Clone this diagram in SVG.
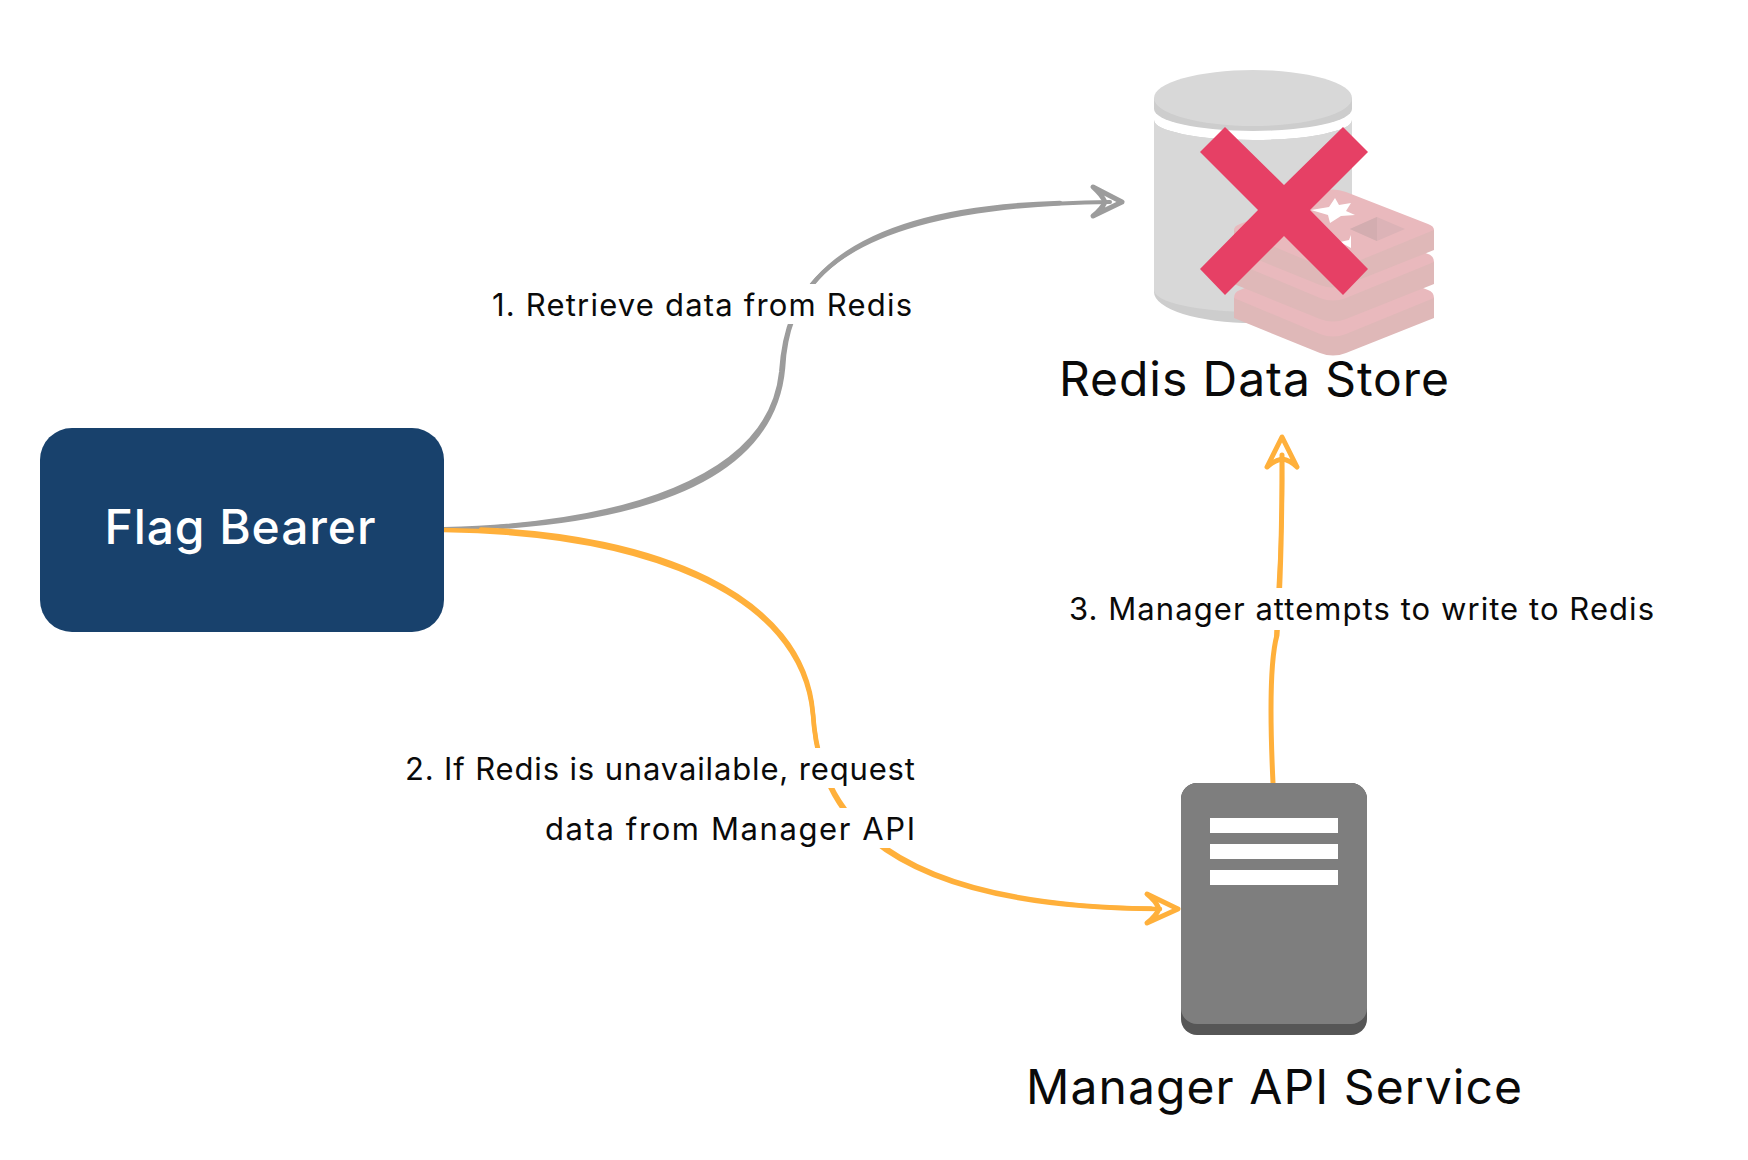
<svg xmlns="http://www.w3.org/2000/svg" width="1748" height="1160" viewBox="0 0 1748 1160">
<style>
text{font-family:"Inter","Noto Sans","Liberation Sans",sans-serif;fill:#0a0a0a}
.lab{font-size:31px}
.ttl{font-size:48px}
.gy{fill:none;stroke:#9c9c9c;stroke-linecap:round;stroke-linejoin:round}
.or{fill:none;stroke:#ffb03b;stroke-linecap:round;stroke-linejoin:round}
.mask{fill:#fff}
.face{fill:#e9b9bd}
.side{fill:#dfb8b8}
</style>
<rect width="1748" height="1160" fill="#fff"/>
<g id="connectors">
<path class="gy" stroke-width="4" d="M444,529C620,525 770,480 781,372C786,300 815,205 1110,202"/>
<path class="gy" stroke-width="4.5" d="M500,527C645,517 773,478 783,368C786,310 812,210 1060,203"/>
<path class="gy" stroke-width="5" d="M1093,187L1122,202L1093,216Q1102,209 1105,202Q1102,195 1093,187Z"/>
<path class="or" stroke-width="4.5" d="M444,530C640,533 802,590 813,715C818,790 850,908 1160,909"/>
<path class="or" stroke-width="4.5" transform="translate(1,-1.5)" d="M480,531C650,537 803,595 812,715C817,790 852,906 1150,910"/>
<path class="or" stroke-width="5" d="M1147,894L1178,909L1147,923Q1156,916 1159,909Q1156,901 1147,894Z"/>
<path class="or" stroke-width="5" d="M1273,783C1270,720 1270,660 1277,635C1281,580 1282,520 1282,455"/>
<path class="or" stroke-width="4" d="M1276,640C1278,580 1284,520 1282,458"/>
<path class="or" stroke-width="5" d="M1282,437L1267,467Q1275,460 1282,459Q1290,460 1297,467Z"/>
</g>
<g id="flag-bearer">
<rect x="40" y="428" width="404" height="204" rx="32" fill="#18416c"/>
<text x="240" y="544" text-anchor="middle" class="ttl" style="fill:#fff;font-weight:500" textLength="271">Flag Bearer</text>
</g>
<g id="redis-data-store">
<path fill="#cdcdcd" d="M1154,120A99,20 0 0 0 1352,120V292A99,31 0 0 1 1154,292Z"/>
<path fill="#d8d8d8" d="M1154,120A99,20 0 0 0 1352,120V290A99,22 0 0 1 1154,290Z"/>
<path fill="#cdcdcd" d="M1154,98V109A99,22 0 0 0 1352,109V98Z"/>
<ellipse cx="1253" cy="98" rx="99" ry="28" fill="#d8d8d8"/>
<g id="redis-logo">
<path class="side" d="M1234,298V318L1320,353Q1333,358 1346,353L1434,318V298Z"/>
<path class="face" d="M1234,298Q1234,292 1240,290L1320,258Q1333,253 1346,258L1428,290Q1434,292 1434,298L1346,334Q1333,339 1320,334Z"/>
<path class="side" d="M1234,262V284L1320,319Q1333,324 1346,319L1434,284V262Z"/>
<path class="face" d="M1234,262Q1234,256 1240,254L1320,222Q1333,217 1346,222L1428,254Q1434,256 1434,262L1346,298Q1333,303 1320,298Z"/>
<path class="side" d="M1234,230V250L1320,285Q1333,290 1346,285L1434,250V230Z"/>
<path class="face" d="M1234,230Q1234,226 1240,224L1320,192Q1333,187 1346,192L1428,224Q1434,226 1434,230L1346,266Q1333,271 1320,266Z"/>
<path fill="#fff" d="M1311,210L1329,207L1335,198L1339,205L1351,203L1346,211L1355,215L1341,216L1330,223L1328,215Z"/>
<path fill="#fff" d="M1340,242L1349,240L1351,235L1351,248Z"/>
<path fill="#dcb3b7" d="M1350,229L1377,217L1405,229L1377,241Z"/>
<path fill="#d3adb0" d="M1350,229L1377,217V241Z"/>
</g>
<path fill="#e64065" d="M1225,127L1284,185L1343,127L1368,152L1310,210L1368,269L1343,295L1284,236L1225,295L1200,269L1258,210L1200,152Z"/>
<text x="1254" y="396" text-anchor="middle" class="ttl" textLength="390">Redis Data Store</text>
</g>
<g id="manager-api-service">
<rect x="1181" y="783" width="186" height="252" rx="16" fill="#565656"/>
<rect x="1181" y="783" width="186" height="241" rx="16" fill="#7e7e7e"/>
<rect x="1210" y="818" width="128" height="15" fill="#fff"/>
<rect x="1210" y="844" width="128" height="15" fill="#fff"/>
<rect x="1210" y="870" width="128" height="15" fill="#fff"/>
<text x="1274" y="1104" text-anchor="middle" class="ttl" textLength="496">Manager API Service</text>
</g>
<g id="labels">
<rect class="mask" x="488" y="284" width="428" height="40"/>
<text x="492" y="316" class="lab" textLength="420">1. Retrieve data from Redis</text>
<rect class="mask" x="401" y="748" width="518" height="40"/>
<text x="405" y="780" class="lab" textLength="510">2. If Redis is unavailable, request</text>
<rect class="mask" x="541" y="808" width="378" height="40"/>
<text x="545" y="840" class="lab" textLength="370">data from Manager API</text>
<rect class="mask" x="1065" y="588" width="593" height="42"/>
<text x="1069" y="620" class="lab" textLength="585">3. Manager attempts to write to Redis</text>
</g>
</svg>
